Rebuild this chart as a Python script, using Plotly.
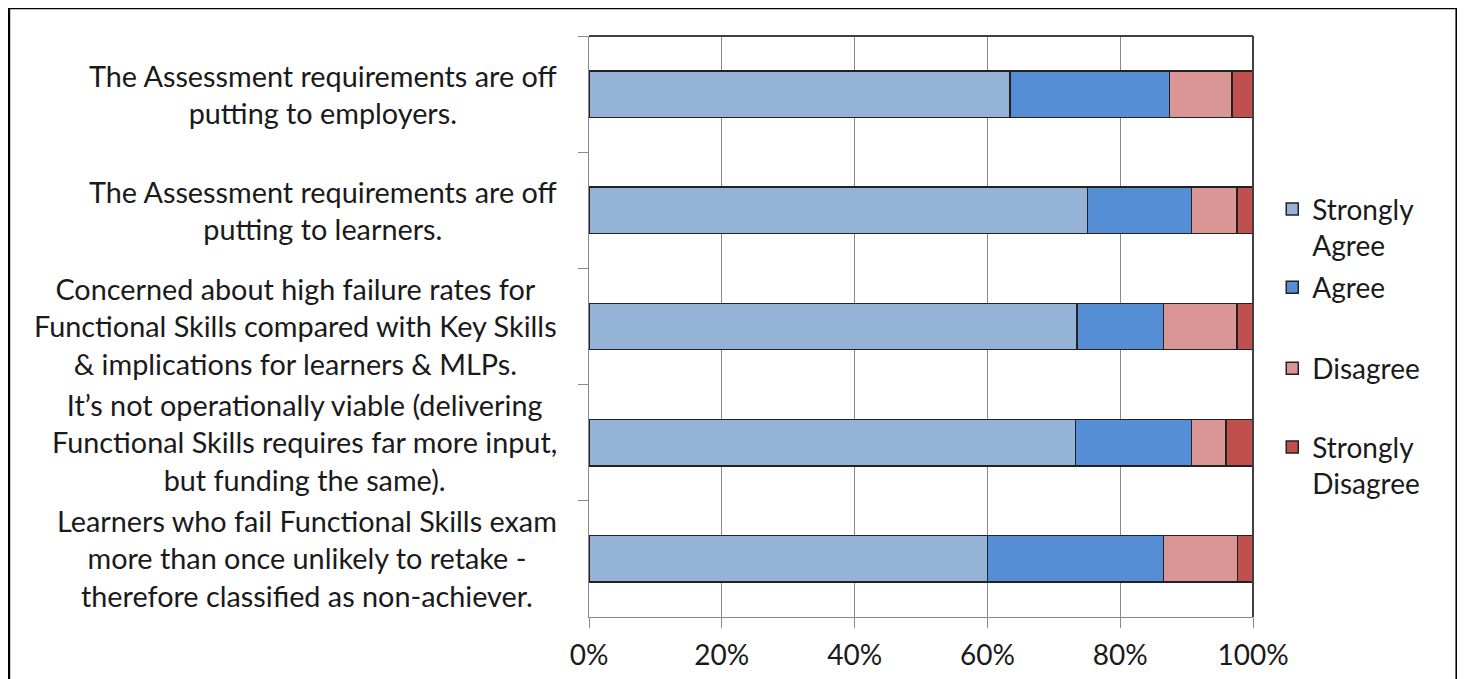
import plotly.graph_objects as go

categories = [
    "The Assessment requirements are off<br>putting to employers.",
    "The Assessment requirements are off<br>putting to learners.",
    "Concerned about high failure rates for<br>Functional Skills compared with Key Skills<br>&amp; implications for learners &amp; MLPs.",
    "It’s not operationally viable (delivering<br>Functional Skills requires far more input,<br>but funding the same).",
    "Learners who fail Functional Skills exam<br>more than once unlikely to retake -<br>therefore classified as non-achiever.",
]
series_names = ["Strongly<br>Agree", "Agree", "Disagree", "Strongly<br>Disagree"]
strongly_agree = [63.4, 75.1, 73.5, 73.3, 60.0]
agree = [24.0, 15.6, 13.0, 17.4, 26.5]
disagree = [9.4, 6.9, 11.1, 5.2, 11.2]
strongly_disagree = [3.2, 2.4, 2.4, 4.1, 2.3]
x_tick_vals = [0, 20, 40, 60, 80, 100]
x_tick_text = ["0%", "20%", "40%", "60%", "80%", "100%"]

colors = ["#95B3D7", "#558ED5", "#D99694", "#C0504D"]
FONT = "Lato"
TXT = "#1a1a1a"
GRID = "#8a8a8a"

values = [strongly_agree, agree, disagree, strongly_disagree]
legend_ids = ["legend", "legend2", "legend3", "legend4"]
legend_y = [0.6707, 0.567, 0.4275, 0.261]

fig = go.Figure()
for name, vals, col, lid in zip(series_names, values, colors, legend_ids):
    fig.add_trace(go.Bar(
        y=categories, x=vals, name=name, orientation="h",
        marker=dict(color=col, line=dict(color="#222222", width=1.5)),
        legend=lid, hoverinfo="x+name",
    ))

layout_legends = {}
for lid, ly in zip(legend_ids, legend_y):
    layout_legends[lid] = dict(
        x=1.029, xanchor="left", y=ly, yanchor="middle",
        font=dict(family=FONT, size=28, color=TXT),
        bgcolor="rgba(0,0,0,0)", valign="top", itemwidth=30,
    )

fig.update_layout(
    width=1465, height=679,
    margin=dict(l=580.5, r=219.7, t=28.2, b=69.8),
    barmode="stack", bargap=0.6,
    plot_bgcolor="white", paper_bgcolor="white",
    showlegend=True,
    font=dict(family=FONT, size=28, color=TXT),
    **layout_legends,
)

fig.update_xaxes(
    range=[0, 100], tickvals=x_tick_vals, ticktext=x_tick_text,
    showgrid=True, gridcolor=GRID, gridwidth=1.3,
    showline=True, linecolor=GRID, linewidth=1.3,
    ticks="outside", ticklen=10, tickcolor=GRID, tickwidth=1.3,
    tickfont=dict(family=FONT, size=28, color=TXT), ticklabelstandoff=3,
    zeroline=False, fixedrange=True,
)
fig.update_yaxes(
    autorange="reversed", showticklabels=False,
    ticks="outside", tickson="boundaries", ticklen=10, tickcolor=GRID, tickwidth=1.3,
    showline=True, linecolor=GRID, linewidth=1.3, showgrid=False,
    fixedrange=True,
)

for cat in categories:
    fig.add_annotation(
        xref="paper", yref="y", x=-0.0459, y=cat, xanchor="right", yanchor="middle",
        text=cat, showarrow=False, align="center",
        font=dict(family=FONT, size=28.8, color=TXT),
    )

# plot frame: dark top and right edges
fig.add_shape(type="line", xref="paper", yref="paper", x0=0, x1=1, y0=1, y1=1,
              line=dict(color="#404040", width=2))
fig.add_shape(type="line", xref="paper", yref="paper", x0=1, x1=1, y0=0, y1=1,
              line=dict(color="#404040", width=2))
# outer chart border
fig.add_shape(type="rect", xref="paper", yref="paper", x0=-0.8747, x1=1.3079, y0=-0.2, y1=1.0494,
              line=dict(color="black", width=4), fillcolor="rgba(0,0,0,0)")

fig.write_html("out.html")
